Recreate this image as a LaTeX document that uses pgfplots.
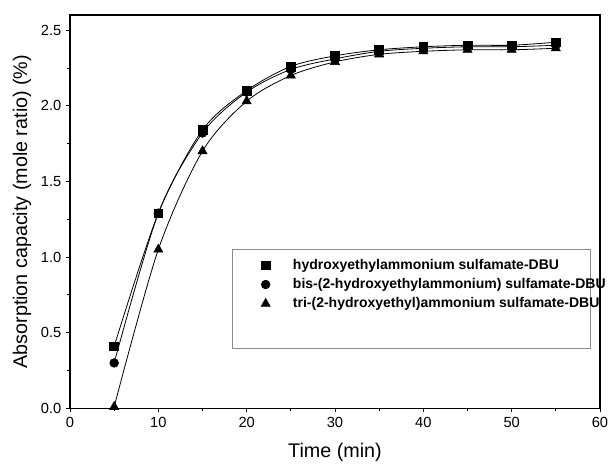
\documentclass[border=0pt]{standalone}
\usepackage{fontspec}
\setmainfont{Liberation Sans}
\usepackage{pgfplots}
\usepackage{pgfplotstable}
\pgfplotsset{compat=1.18}

% absorption capacity vs time, three ionic liquids
\pgfplotstableread{
t   sq    ci    tr
5   0.41  0.30  0.01
10  1.29  1.29  1.05
15  1.84  1.82  1.70
20  2.10  2.09  2.03
25  2.26  2.24  2.20
30  2.33  2.31  2.29
35  2.37  2.36  2.34
40  2.39  2.38  2.36
45  2.40  2.39  2.37
50  2.40  2.39  2.37
55  2.42  2.40  2.38
}\absdata

\begin{document}
\begin{tikzpicture}
\begin{axis}[
    at={(0,0)}, anchor=south west, scale only axis,
    width=397.5pt, height=295pt,
    xmin=0, xmax=60, ymin=0, ymax=2.6,
    xtick={0,10,...,60}, ytick={0,0.5,...,2.5},
    minor x tick num=1, minor y tick num=1,
    tick pos=left, tick align=outside,
    major tick length=3pt, minor tick length=2pt,
    axis line style={line width=0.8pt},
    every tick/.style={black, line width=0.6pt},
    tick label style={font=\fontsize{11}{13}\selectfont},
    /pgf/number format/assume math mode=true,
    yticklabel style={/pgf/number format/.cd, fixed, fixed zerofill, precision=1},
    label style={font=\fontsize{14.8}{17}\selectfont},
    xlabel={Time (min)},
    ylabel={Absorption capacity (mole ratio) (\%)},
    xlabel style={at={(axis description cs:0.5,-0.111)}, anchor=center},
    ylabel style={at={(axis description cs:-0.0906,0.5)}, anchor=center},
    legend style={at={(axis cs:21.6,1.0)}, anchor=north west, draw=none, fill=none,
        inner sep=0pt, font=\bfseries\fontsize{10.5}{12}\selectfont, row sep=2.4pt,
        nodes={inner sep=1pt, text height=8pt, text depth=2pt},
        /tikz/every odd column/.append style={column sep=16pt}},
    legend cell align=left,
]
\addplot[black, line width=0.6pt, smooth, forget plot] table[x=t, y=sq] {\absdata};
\addplot[black, line width=0.6pt, smooth, forget plot] table[x=t, y=ci] {\absdata};
\addplot[black, line width=0.6pt, smooth, forget plot] table[x=t, y=tr] {\absdata};

\addplot[only marks, black, mark=square*, mark size=3.3pt] table[x=t, y=sq] {\absdata};
\addplot[only marks, black, mark=*, mark size=3.3pt] table[x=t, y=ci] {\absdata};
\addplot[only marks, black, mark=triangle*, mark size=4pt] table[x=t, y=tr] {\absdata};
\legend{hydroxyethylammonium sulfamate-DBU,
        bis-(2-hydroxyethylammonium) sulfamate-DBU,
        tri-(2-hydroxyethyl)ammonium sulfamate-DBU}

\draw[black!45, line width=0.6pt] (axis cs:18.4,1.052) rectangle (axis cs:58.9,0.397);
\end{axis}
\pgfresetboundingbox
\useasboundingbox (-52.5pt,-41.8pt) rectangle (403.5pt,306.25pt);
\end{tikzpicture}
\end{document}
